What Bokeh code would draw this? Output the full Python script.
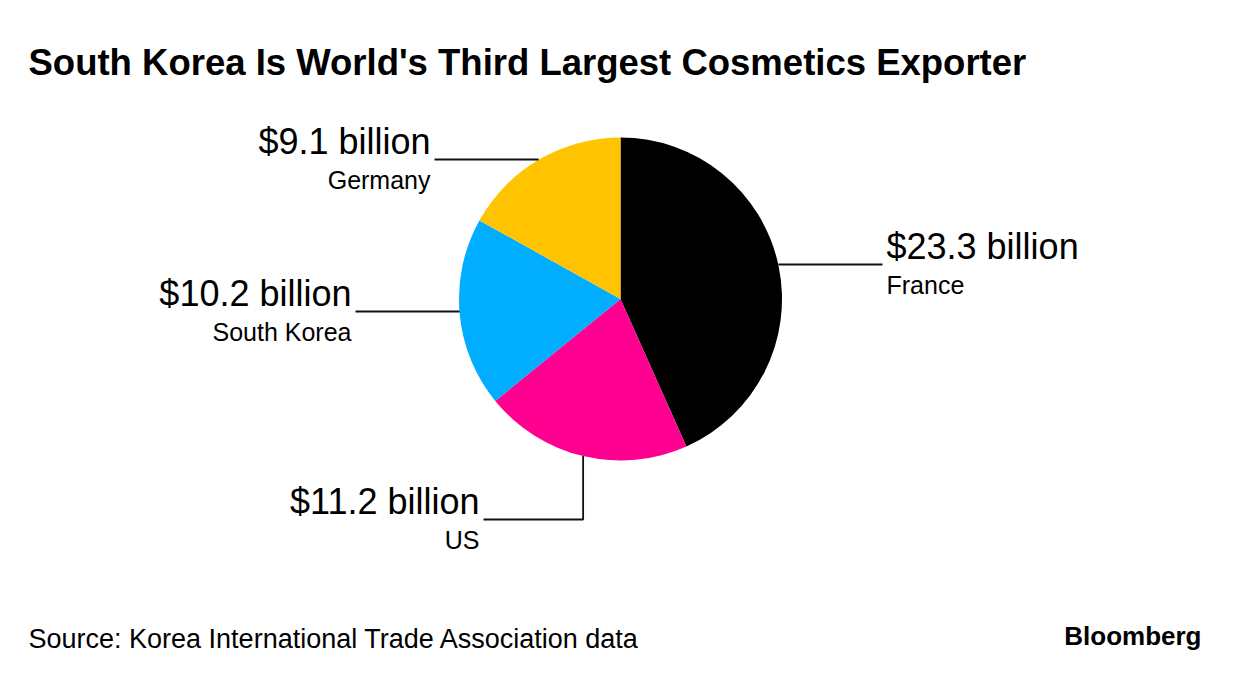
import math
from bokeh.plotting import figure
from bokeh.models import Range1d
from bokeh.core.properties import value
from bokeh.embed import file_html
from bokeh.resources import INLINE

# ---- data ----
countries = ["France", "US", "South Korea", "Germany"]
exports_bn = [23.3, 11.2, 10.2, 9.1]
value_labels = ["$23.3 billion", "$11.2 billion", "$10.2 billion", "$9.1 billion"]
colors = ["#000000", "#ff0090", "#00adff", "#ffc300"]

TITLE = "South Korea Is World's Third Largest Cosmetics Exporter"
SOURCE = "Source: Korea International Trade Association data"

# ---- layout (page pixels) ----
W, H = 1224, 664
CX, CY_PAGE, R = 620, 298.5, 161.5
FONT = "Liberation Sans"
# label anchor: x of text, leader y reference; text side
label_x = [886, 479, 351, 430]
label_base = [259, 514, 306, 154]
label_align = ["left", "right", "right", "right"]


def Y(py):
    return H - py


p = figure(width=W, height=H, x_range=Range1d(0, W), y_range=Range1d(0, H),
           output_backend="svg", toolbar_location=None, x_axis_type=None,
           y_axis_type=None, min_border=0)
p.outline_line_color = None
p.grid.visible = False
p.background_fill_color = "white"
p.border_fill_color = "white"

total = sum(exports_bn)
cum = 0.0
starts, ends, mids = [], [], []
for v in exports_bn:
    f0 = cum / total
    cum += v
    f1 = cum / total
    # clockwise from 12 o'clock
    starts.append(math.pi / 2 - 2 * math.pi * f1)
    ends.append(math.pi / 2 - 2 * math.pi * f0)
    mids.append((f0 + f1) / 2)

p.wedge(x=[CX] * 4, y=[Y(CY_PAGE)] * 4, radius=R, start_angle=starts, end_angle=ends,
        color=colors, line_color=None, direction="anticlock")

txt = dict(text_font=value(FONT), text_color="#000000")
for i, name in enumerate(countries):
    a = 2 * math.pi * mids[i]
    px = CX + R * math.sin(a)
    py = CY_PAGE - R * math.cos(a)
    ly = label_base[i] + 5
    align = label_align[i]
    lx_end = label_x[i] - 4 if align == "left" else label_x[i] + 4
    if abs(py - ly) > 20:
        xs = [px, px, lx_end]
        ys = [Y(py), Y(ly), Y(ly)]
    else:
        xs = [px, lx_end]
        ys = [Y(ly), Y(ly)]
    p.line(xs, ys, line_color="#111111", line_width=1.8)
    p.text(x=[label_x[i]], y=[Y(label_base[i] - 13)], text=[value_labels[i]],
           text_font_size="36px", text_align=align, text_baseline="alphabetic", **txt)
    p.text(x=[label_x[i]], y=[Y(label_base[i] + 25)], text=[name],
           text_font_size="25px", text_align=align, text_baseline="alphabetic", **txt)

p.text(x=[28], y=[Y(62)], text=[TITLE], text_font_size="36.5px", text_font_style="bold",
       text_baseline="alphabetic", **txt)
p.text(x=[28], y=[Y(638)], text=[SOURCE], text_font_size="27px",
       text_baseline="alphabetic", **txt)
p.text(x=[1201], y=[Y(635)], text=["Bloomberg"], text_font_size="26px", text_font_style="bold",
       text_align="right", text_baseline="alphabetic", **txt)

open("out.html", "w").write(file_html(p, INLINE))
